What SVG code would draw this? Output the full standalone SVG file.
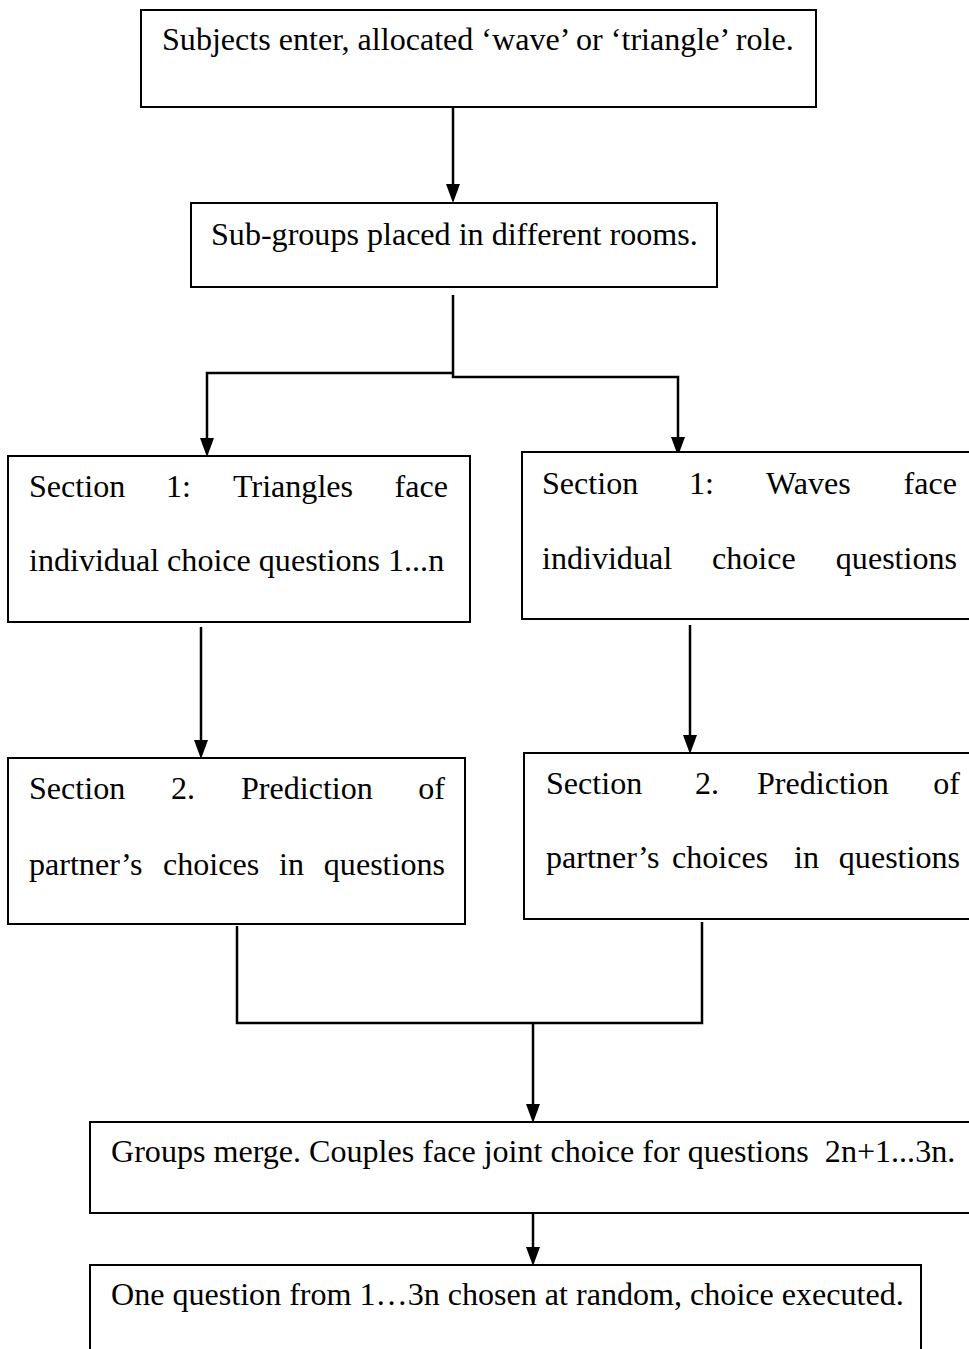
<svg xmlns="http://www.w3.org/2000/svg" width="969" height="1349" viewBox="0 0 969 1349">
<style>
.box{fill:#fff;stroke:#000;stroke-width:2}
.t{font-family:"Liberation Serif","Times New Roman",serif;font-size:32.1px;fill:#000;white-space:pre}
.c{fill:none;stroke:#000;stroke-width:2.5}
.ah{fill:#000}
</style>
<g id="connectors">
<path class="c" d="M453,107 V185"/>
<path class="ah" d="M446,184 L460,184 L453,203 Z"/>
<path class="c" d="M453,295 V377 H678 V440"/>
<path class="ah" d="M671,437 L685,437 L678,456 Z"/>
<path class="c" d="M453,373 H207 V440"/>
<path class="ah" d="M200,438 L214,438 L207,457 Z"/>
<path class="c" d="M201,627 V742"/>
<path class="ah" d="M194,740 L208,740 L201,759 Z"/>
<path class="c" d="M690,625 V738"/>
<path class="ah" d="M683,735 L697,735 L690,754 Z"/>
<path class="c" d="M237,926 V1023 H702 V922"/>
<path class="c" d="M533,1023 V1106"/>
<path class="ah" d="M526,1104 L540,1104 L533,1123 Z"/>
<path class="c" d="M533,1207 V1248"/>
<path class="ah" d="M526,1247 L540,1247 L533,1266 Z"/>
</g>
<g id="n1">
<rect class="box" x="141" y="10" width="675" height="97"/>
<text class="t" x="162" y="50">Subjects enter, allocated ‘wave’ or ‘triangle’ role.</text>
</g>
<g id="n2">
<rect class="box" x="191" y="203" width="526" height="84"/>
<text class="t" x="211" y="245">Sub-groups placed in different rooms.</text>
</g>
<g id="n3">
<rect class="box" x="8" y="456" width="462" height="166"/>
<text class="t" y="497"><tspan x="29">Section</tspan><tspan x="166">1:</tspan><tspan x="233">Triangles</tspan></text>
<text class="t" x="448" y="497" text-anchor="end">face</text>
<text class="t" x="29" y="571">individual choice questions 1...n</text>
</g>
<g id="n4">
<rect class="box" x="522" y="452" width="460" height="167"/>
<text class="t" y="494"><tspan x="542">Section</tspan><tspan x="689">1:</tspan><tspan x="766">Waves</tspan></text>
<text class="t" x="957" y="494" text-anchor="end">face</text>
<text class="t" y="569"><tspan x="542">individual</tspan><tspan x="712">choice</tspan></text>
<text class="t" x="957" y="569" text-anchor="end">questions</text>
</g>
<g id="n5">
<rect class="box" x="8" y="758" width="457" height="166"/>
<text class="t" y="799"><tspan x="29">Section</tspan><tspan x="171">2.</tspan><tspan x="241">Prediction</tspan></text>
<text class="t" x="445" y="799" text-anchor="end">of</text>
<text class="t" y="875"><tspan x="29">partner’s</tspan><tspan x="163">choices</tspan><tspan x="279">in</tspan></text>
<text class="t" x="445" y="875" text-anchor="end">questions</text>
</g>
<g id="n6">
<rect class="box" x="524" y="753" width="460" height="166"/>
<text class="t" y="794"><tspan x="546">Section</tspan><tspan x="695">2.</tspan><tspan x="757">Prediction</tspan></text>
<text class="t" x="960" y="794" text-anchor="end">of</text>
<text class="t" y="868"><tspan x="546">partner’s</tspan><tspan x="672">choices</tspan><tspan x="794">in</tspan></text>
<text class="t" x="960" y="868" text-anchor="end">questions</text>
</g>
<g id="n7">
<rect class="box" x="90" y="1122" width="895" height="91"/>
<text class="t" x="111" y="1162">Groups merge. Couples face joint choice for questions  2n+1...3n.</text>
</g>
<g id="n8">
<rect class="box" x="90" y="1265" width="831" height="100"/>
<text class="t" x="111" y="1305">One question from 1…3n chosen at random, choice executed.</text>
</g>
</svg>
